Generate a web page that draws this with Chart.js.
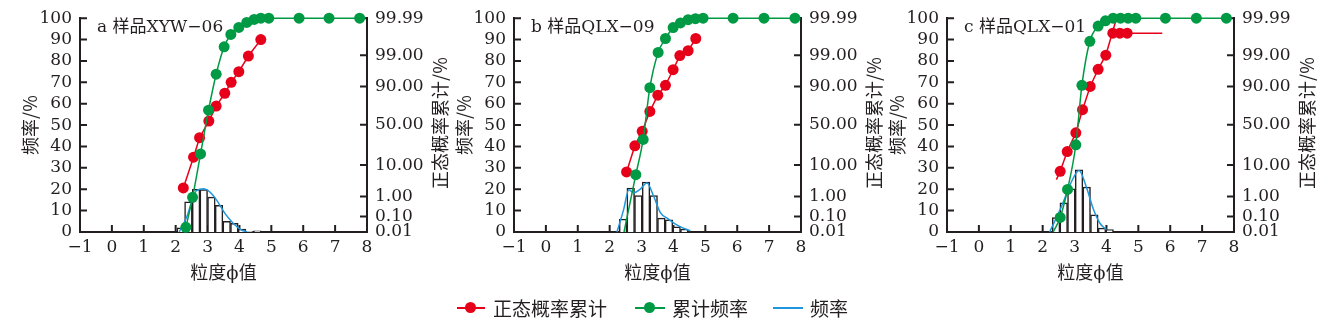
<!DOCTYPE html>
<html>
<head>
  <meta charset="utf-8">
  <title>粒度频率曲线</title>
  <script src="https://cdn.jsdelivr.net/npm/chart.js"></script>
  <style>
    body { margin: 0; background: #fff; width: 1334px; height: 324px; position: relative; overflow: hidden; }
    canvas { position: absolute; top: 0; }
    .lg { position: absolute; }
    .ln { height: 2px; top: 307px; }
    .dot { width: 11px; height: 11px; border-radius: 50%; top: 302px; }
    .txt { top: 296px; font: 19px "Noto Sans CJK SC", sans-serif; line-height: 24px; color: #231f20; white-space: nowrap; }
  </style>
</head>
<body>
  <canvas id="chartA" width="460" height="290" style="left:0px"></canvas>
  <canvas id="chartB" width="460" height="290" style="left:434px"></canvas>
  <canvas id="chartC" width="460" height="290" style="left:867px"></canvas>

  <div class="lg ln" style="left:457px;width:28px;background:#e60019"></div>
  <div class="lg dot" style="left:465px;background:#e60019"></div>
  <div class="lg txt" style="left:493px">正态概率累计</div>
  <div class="lg ln" style="left:635px;width:30px;background:#009a44"></div>
  <div class="lg dot" style="left:644px;background:#009a44"></div>
  <div class="lg txt" style="left:672px">累计频率</div>
  <div class="lg ln" style="left:773px;width:30px;background:#1e96dc"></div>
  <div class="lg txt" style="left:810px">频率</div>

  <script>
    // right axis: probability labels and where they sit on the 0-100 frame
    const probLabels = ['0.01', '0.10', '1.00', '10.00', '50.00', '90.00', '99.00', '99.99'];
    const probPositions = [0, 7.3, 16.6, 31.3, 50.2, 68.1, 82.7, 100];

    // a 样品XYW-06
    const aBarPhi = [2.16, 2.40, 2.64, 2.88, 3.12, 3.36, 3.60, 3.84, 4.08, 4.32, 4.56];
    const aBarFreq = [2.0, 14.1, 20.0, 19.8, 16.3, 12.5, 5.0, 4.0, 1.4, 0.3, 0.5];
    const aCurvePhi = [2.11, 2.35, 2.50, 2.66, 2.87, 3.08, 3.29, 3.55, 3.81, 4.07, 4.23];
    const aCurveFreq = [0, 7.1, 14.0, 19.4, 20.2, 18.6, 14.8, 8.6, 4.0, 0.9, 0.1];
    const aCumPhi = [2.32, 2.53, 2.78, 3.03, 3.27, 3.52, 3.73, 3.98, 4.23, 4.46, 4.67, 4.92, 5.87, 6.81, 7.77];
    const aCumFreq = [2.2, 16.2, 36.5, 57.0, 73.8, 86.6, 92.4, 95.7, 98.0, 99.4, 100, 100, 100, 100, 100];
    const aProbPhi = [2.24, 2.56, 2.75, 3.04, 3.27, 3.54, 3.74, 3.98, 4.28, 4.67];
    const aProbCum = [20.6, 35.0, 44.1, 51.9, 58.9, 64.9, 70.0, 75.0, 82.3, 90.0];

    // b 样品QLX-09
    const bBarPhi = [2.42, 2.66, 2.90, 3.14, 3.38, 3.62, 3.86, 4.10, 4.34];
    const bBarFreq = [6.0, 20.6, 17.0, 23.4, 17.0, 6.5, 5.7, 2.4, 1.4];
    const bCurvePhi = [2.23, 2.44, 2.60, 2.75, 2.94, 3.17, 3.38, 3.59, 3.82, 4.12, 4.38, 4.53];
    const bCurveFreq = [0, 10.6, 19.8, 18.3, 19.8, 22.9, 16.7, 9.1, 6.3, 3.2, 1.4, 0.6];
    const bCumPhi = [2.45, 2.82, 3.05, 3.26, 3.52, 3.75, 3.99, 4.22, 4.46, 4.69, 4.93, 5.87, 6.84, 7.81];
    const bCumFreq = [0, 26.8, 43.3, 67.5, 84.0, 90.5, 95.6, 97.8, 99.3, 99.8, 100, 100, 100, 100];
    const bProbPhi = [2.53, 2.79, 3.02, 3.26, 3.51, 3.75, 3.99, 4.20, 4.46, 4.70];
    const bProbCum = [28.1, 40.3, 47.1, 56.4, 64.0, 68.6, 75.9, 82.5, 84.8, 90.5];

    // c 样品QLX-01
    const cBarPhi = [2.42, 2.66, 2.90, 3.14, 3.38, 3.62, 3.86, 4.10];
    const cBarFreq = [6.8, 13.7, 20.2, 29.1, 21.0, 8.0, 1.8, 1.1];
    const cCurvePhi = [2.22, 2.59, 2.90, 3.14, 3.37, 3.58, 3.79, 4.00];
    const cCurveFreq = [0, 11.9, 23.4, 28.8, 21.1, 11.1, 4.2, 1.1];
    const cCumPhi = [2.33, 2.55, 2.78, 3.04, 3.23, 3.48, 3.74, 3.97, 4.21, 4.44, 4.68, 4.92, 5.85, 6.82, 7.76];
    const cCumFreq = [0, 6.8, 19.9, 40.8, 68.6, 89.2, 96.3, 98.8, 100, 100, 100, 100, 100, 100, 100];
    const cProbPhi = [2.43, 2.55, 2.77, 3.04, 3.25, 3.49, 3.74, 3.98, 4.31];
    const cProbCum = [24.5, 28.4, 37.6, 46.4, 57.2, 68.1, 76.1, 82.7, 99.6];
    const cTailPhi = [4.20, 4.42, 4.65, 5.75];
    const cTailCum = [93.0, 93.0, 93.0, 93.0];

    const INK = '#231f20';
    const RED = '#e60019';
    const GREEN = '#009a44';
    const BLUE = '#1e96dc';
    const CJK = '"Noto Sans CJK SC", "DejaVu Serif", sans-serif';

    Chart.defaults.font.family = '"DejaVu Serif", "Noto Sans CJK SC", serif';
    Chart.defaults.font.size = 17;
    Chart.defaults.color = INK;

    function points(xs, ys) {
      return xs.map((x, i) => ({ x: x, y: ys[i] }));
    }

    // ticks point into the plot, right title reads bottom-up, panel tag in corner
    const frame = {
      id: 'frame',
      beforeDatasetsDraw(chart) {
        const { ctx, chartArea: a, scales } = chart;
        ctx.save();
        ctx.strokeStyle = INK;
        ctx.lineWidth = 2;
        ctx.beginPath();
        scales.x.ticks.forEach(t => {
          const px = scales.x.getPixelForValue(t.value);
          ctx.moveTo(px, a.bottom);
          ctx.lineTo(px, a.bottom - 7);
        });
        scales.y.ticks.forEach(t => {
          const py = scales.y.getPixelForValue(t.value);
          ctx.moveTo(a.left, py);
          ctx.lineTo(a.left + 7, py);
        });
        scales.y2.ticks.forEach(t => {
          const py = scales.y2.getPixelForValue(t.value);
          ctx.moveTo(a.right, py);
          ctx.lineTo(a.right - 7, py);
        });
        ctx.stroke();
        ctx.restore();
      },
      afterDraw(chart, args, opts) {
        const { ctx, chartArea: a } = chart;
        ctx.save();
        ctx.fillStyle = INK;
        ctx.font = '18px ' + CJK;
        ctx.textAlign = 'center';
        ctx.textBaseline = 'middle';
        ctx.translate(a.right + 73, (a.top + a.bottom) / 2 - 2);
        ctx.rotate(-Math.PI / 2);
        ctx.fillText('正态概率累计/%', 0, 0);
        ctx.restore();

        ctx.save();
        ctx.fillStyle = INK;
        ctx.font = '17px "DejaVu Serif", "Noto Sans CJK SC", serif';
        ctx.textAlign = 'left';
        ctx.textBaseline = 'middle';
        ctx.fillText(opts.tag, a.left + 17, a.top + 9);
        ctx.restore();
      }
    };

    function drawPanel(id, tag, d) {
      const markOnly = skip => c => skip.includes(c.dataIndex) ? 0 : 5.5;
      const sets = [
        {
          label: '累计频率', data: points(d.cumPhi, d.cumFreq), yAxisID: 'y',
          borderColor: GREEN, backgroundColor: GREEN, borderWidth: 1.5,
          pointRadius: markOnly(d.cumBare), pointBorderWidth: 0,
          cubicInterpolationMode: 'monotone', clip: false, order: 0
        },
        {
          label: '正态概率累计', data: points(d.probPhi, d.probCum), yAxisID: 'y2',
          borderColor: RED, backgroundColor: RED, borderWidth: 1.5,
          pointRadius: markOnly(d.probBare), pointBorderWidth: 0,
          tension: 0, clip: false, order: 1
        },
        {
          label: '频率', data: points(d.curvePhi, d.curveFreq), yAxisID: 'y',
          borderColor: BLUE, borderWidth: 1.5, pointRadius: 0,
          cubicInterpolationMode: 'monotone', order: 2
        },
        {
          type: 'bar', label: '频率柱', data: points(d.barPhi, d.barFreq), yAxisID: 'y',
          backgroundColor: '#ffffff', borderColor: INK, borderWidth: 1.5,
          barPercentage: 1, categoryPercentage: 1, order: 3
        }
      ];
      if (d.tailPhi) {
        sets.push({
          label: '正态概率累计', data: points(d.tailPhi, d.tailCum), yAxisID: 'y2',
          borderColor: RED, backgroundColor: RED, borderWidth: 1.5,
          pointRadius: markOnly([d.tailPhi.length - 1]), pointBorderWidth: 0,
          tension: 0, clip: false, order: 1
        });
      }

      new Chart(document.getElementById(id), {
        type: 'line',
        data: { datasets: sets },
        options: {
          responsive: false,
          animation: false,
          events: [],
          layout: { padding: { top: 17, left: 0, right: 0, bottom: 0 } },
          plugins: { legend: { display: false }, tooltip: { enabled: false }, frame: { tag: tag } },
          scales: {
            x: {
              type: 'linear', min: -1, max: 8, offset: false,
              grid: { display: false, drawTicks: false },
              border: { display: true, color: INK, width: 2 },
              ticks: { stepSize: 1, padding: 5, autoSkip: false, callback: v => v < 0 ? '\u2212' + Math.abs(v) : String(v) },
              title: { display: true, text: '粒度ϕ值', font: { family: CJK, size: 18 }, padding: { top: 0, bottom: 7 } },
              afterFit: s => { s.height = 58; }
            },
            y: {
              position: 'left', min: 0, max: 100,
              grid: { display: false, drawTicks: false },
              border: { display: true, color: INK, width: 2 },
              ticks: { stepSize: 10, padding: 8, autoSkip: false },
              title: { display: true, text: '频率/%', font: { family: CJK, size: 18 }, padding: { top: 19, bottom: 0 } },
              afterFit: s => { s.width = 80; }
            },
            y2: {
              position: 'right', min: 0, max: 100,
              grid: { display: false, drawTicks: false },
              border: { display: true, color: INK, width: 2 },
              afterBuildTicks: s => { s.ticks = probPositions.map(v => ({ value: v })); },
              ticks: { padding: 8, autoSkip: false, callback: (v, i) => probLabels[i] },
              afterFit: s => { s.width = 93; }
            }
          }
        },
        plugins: [frame]
      });
    }

    drawPanel('chartA', 'a 样品XYW\u221206', {
      barPhi: aBarPhi, barFreq: aBarFreq, curvePhi: aCurvePhi, curveFreq: aCurveFreq,
      cumPhi: aCumPhi, cumFreq: aCumFreq, cumBare: [],
      probPhi: aProbPhi, probCum: aProbCum, probBare: []
    });
    drawPanel('chartB', 'b 样品QLX\u221209', {
      barPhi: bBarPhi, barFreq: bBarFreq, curvePhi: bCurvePhi, curveFreq: bCurveFreq,
      cumPhi: bCumPhi, cumFreq: bCumFreq, cumBare: [0],
      probPhi: bProbPhi, probCum: bProbCum, probBare: []
    });
    drawPanel('chartC', 'c 样品QLX\u221201', {
      barPhi: cBarPhi, barFreq: cBarFreq, curvePhi: cCurvePhi, curveFreq: cCurveFreq,
      cumPhi: cCumPhi, cumFreq: cCumFreq, cumBare: [0],
      probPhi: cProbPhi, probCum: cProbCum, probBare: [0, 8],
      tailPhi: cTailPhi, tailCum: cTailCum
    });
  </script>
</body>
</html>
